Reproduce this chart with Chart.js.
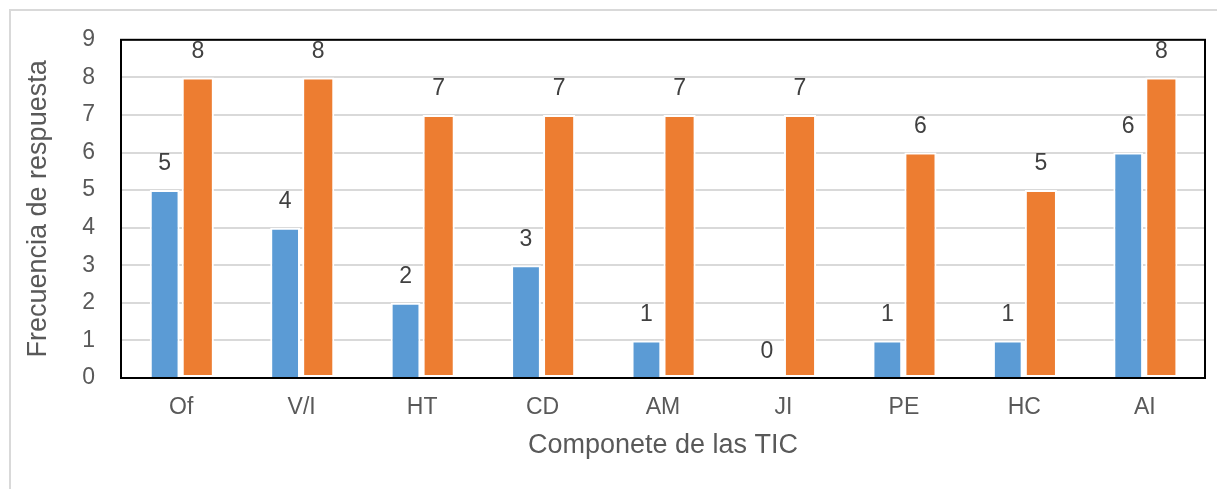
<!DOCTYPE html>
<html>
<head>
<meta charset="utf-8">
<script src="https://cdn.jsdelivr.net/npm/chart.js@4"></script>
<style>
html,body{margin:0;padding:0;background:#fff;}
#wrap{position:relative;width:1217px;height:489px;}
#frame{position:absolute;left:9px;top:9px;width:1230px;height:500px;border-left:2px solid #d9d9d9;border-top:2px solid #d9d9d9;pointer-events:none;}
canvas{position:absolute;left:0;top:0;}
</style>
</head>
<body>
<div id="wrap">
<canvas id="c" width="1217" height="489"></canvas>
<div id="frame"></div>
</div>
<script>
const categories = ["Of","V/I","HT","CD","AM","JI","PE","HC","AI"];
const seriesBlue = [5,4,2,3,1,0,1,1,6];
const seriesOrange = [8,8,7,7,7,7,6,5,8];
const yTicks = [0,1,2,3,4,5,6,7,8,9];

const FONT = "'Liberation Sans', Arial, Helvetica, sans-serif";

const labelPlugin = {
  id: 'valueLabels',
  afterDatasetsDraw(chart) {
    const ctx = chart.ctx;
    ctx.save();
    ctx.font = "23px " + FONT;
    ctx.fillStyle = "#404040";
    ctx.textAlign = "center";
    ctx.textBaseline = "middle";
    chart.data.datasets.forEach((ds, i) => {
      const meta = chart.getDatasetMeta(i);
      meta.data.forEach((bar, j) => {
        ctx.fillText(String(ds.data[j]), bar.x, bar.y - 26);
      });
    });
    ctx.restore();
  }
};

const borderPlugin = {
  id: 'plotBorder',
  afterDraw(chart) {
    const a = chart.chartArea;
    const ctx = chart.ctx;
    ctx.save();
    ctx.strokeStyle = "#000";
    ctx.lineWidth = 2;
    ctx.strokeRect(a.left, a.top, a.right - a.left, a.bottom - a.top);
    ctx.restore();
  }
};

new Chart(document.getElementById('c'), {
  type: 'bar',
  data: {
    labels: categories,
    datasets: [
      {
        data: seriesBlue,
        backgroundColor: "#5B9BD5",
        borderColor: "#ffffff",
        borderWidth: 2,
        barPercentage: 0.9,
        categoryPercentage: 0.55
      },
      {
        data: seriesOrange,
        backgroundColor: "#ED7D31",
        borderColor: "#ffffff",
        borderWidth: 2,
        borderSkipped: false,
        barPercentage: 0.97,
        categoryPercentage: 0.55
      }
    ]
  },
  options: {
    responsive: false,
    animation: false,
    devicePixelRatio: 1,
    layout: { padding: { left: 18, right: 12, top: 38, bottom: 23 } },
    plugins: { legend: { display: false }, tooltip: { enabled: false } },
    scales: {
      x: {
        grid: { display: false, drawTicks: false },
        border: { display: false },
        ticks: { color: "#595959", font: { family: FONT, size: 23 }, padding: 16 },
        title: { display: true, text: "Componete de las TIC", color: "#595959", font: { family: FONT, size: 27 } },
        afterFit(s) { s.height = 88; }
      },
      y: {
        min: 0,
        max: 9,
        afterBuildTicks(s) { s.ticks = yTicks.map(v => ({ value: v })); },
        grid: { color: "#d9d9d9", lineWidth: 2, drawTicks: false },
        border: { display: false },
        ticks: { color: "#595959", font: { family: FONT, size: 23 }, padding: 26 },
        title: { display: true, text: "Frecuencia de respuesta", color: "#595959", font: { family: FONT, size: 27 } },
        afterFit(s) { s.width = 103; }
      }
    }
  },
  plugins: [labelPlugin, borderPlugin]
});
</script>
</body>
</html>
